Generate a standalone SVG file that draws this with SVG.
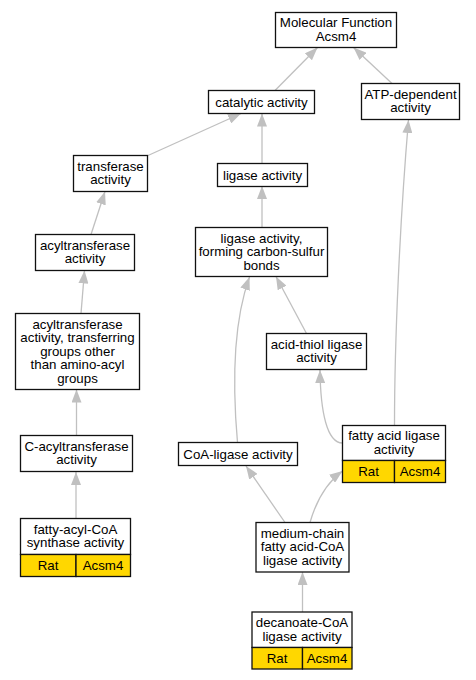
<svg xmlns="http://www.w3.org/2000/svg" width="476" height="680" viewBox="0 0 476 680">
<style>
.n rect{fill:#fff;stroke:#111;stroke-width:1.3}
.n rect.y{fill:#ffd700}
text{font-family:"Liberation Sans",Arial,sans-serif;font-size:13.3px;fill:#000;text-anchor:middle}
.e path{fill:none;stroke:#c0c0c0;stroke-width:1.3;marker-end:url(#ah)}
</style>
<defs>
<marker id="ah" markerUnits="userSpaceOnUse" markerWidth="13" markerHeight="10" refX="13" refY="5" orient="auto"><path d="M0,0 L13,5 L0,10 z" fill="#c0c0c0"/></marker>
</defs>
<rect width="476" height="680" fill="#fff"/>
<g class="e" id="edges">
<path d="M275,90.5 L317.5,47.5"/>
<path d="M392,83.5 L353.5,47.5"/>
<path d="M148,155.5 L241,113.5"/>
<path d="M262,163.5 L262,113.5"/>
<path d="M394.5,425.5 C394.5,340 400,220 408.5,120"/>
<path d="M91,234.5 L105,191.5"/>
<path d="M262,227.5 L262,186"/>
<path d="M81,313.5 L84.5,270.5"/>
<path d="M306.5,333.5 L276,276.5"/>
<path d="M237.5,442.5 C232,380 234,320 249.5,277"/>
<path d="M342.5,443 C327,443 320.5,412 320,370"/>
<path d="M76.5,435.5 L76.5,389.5"/>
<path d="M76,518.5 L76,472"/>
<path d="M285,522.5 L246,466"/>
<path d="M310,522.5 C315,505 325,484 342.5,471"/>
<path d="M302.5,612 L302.5,572"/>
</g>
<g class="n" id="mf"><rect x="275.5" y="12.5" width="121" height="35"/><text x="336" y="27.3">Molecular Function</text><text x="336" y="41">Acsm4</text></g>
<g class="n" id="catalytic"><rect x="208.5" y="90.5" width="106" height="23"/><text x="261.5" y="106.6">catalytic activity</text></g>
<g class="n" id="atp"><rect x="361.5" y="83.5" width="98" height="36"/><text x="410.5" y="98.5">ATP-dependent</text><text x="410.5" y="112">activity</text></g>
<g class="n" id="transferase"><rect x="73.5" y="155.5" width="74" height="36"/><text x="110.5" y="170.5">transferase</text><text x="110.5" y="184">activity</text></g>
<g class="n" id="ligase"><rect x="217.5" y="163.5" width="90" height="23"/><text x="262.5" y="179.6">ligase activity</text></g>
<g class="n" id="acyltransferase"><rect x="35.5" y="234.5" width="99" height="36"/><text x="85" y="249.5">acyltransferase</text><text x="85" y="263">activity</text></g>
<g class="n" id="ligasecs"><rect x="195.5" y="227.5" width="132" height="49"/><text x="261.5" y="242.5">ligase activity,</text><text x="261.5" y="256">forming carbon-sulfur</text><text x="261.5" y="269.5">bonds</text></g>
<g class="n" id="acyltrans2"><rect x="15.5" y="313.5" width="124" height="76"/><text x="77.5" y="328.5">acyltransferase</text><text x="77.5" y="342">activity, transferring</text><text x="77.5" y="355.5">groups other</text><text x="77.5" y="369">than amino-acyl</text><text x="77.5" y="382.5">groups</text></g>
<g class="n" id="acidthiol"><rect x="266.5" y="333.5" width="100" height="36"/><text x="316.5" y="348.5">acid-thiol ligase</text><text x="316.5" y="362">activity</text></g>
<g class="n" id="cacyl"><rect x="20.5" y="435.5" width="112" height="36"/><text x="76.5" y="450.5">C-acyltransferase</text><text x="76.5" y="464">activity</text></g>
<g class="n" id="coaligase"><rect x="178.5" y="442.5" width="119" height="23"/><text x="238" y="458.6">CoA-ligase activity</text></g>
<g class="n" id="fattyacid"><rect x="342.5" y="425.5" width="103" height="35"/><rect class="y" x="342.5" y="460.5" width="52" height="22"/><rect class="y" x="394.5" y="460.5" width="51" height="22"/><text x="394" y="440.3">fatty acid ligase</text><text x="394" y="454">activity</text><text x="368.5" y="476">Rat</text><text x="420" y="476">Acsm4</text></g>
<g class="n" id="fattyacyl"><rect x="20.5" y="518.5" width="110" height="36"/><rect class="y" x="20.5" y="554.5" width="55.5" height="22"/><rect class="y" x="76" y="554.5" width="54.5" height="22"/><text x="75.5" y="533.5">fatty-acyl-CoA</text><text x="75.5" y="547">synthase activity</text><text x="48" y="570">Rat</text><text x="103" y="570">Acsm4</text></g>
<g class="n" id="mediumchain"><rect x="256" y="522.5" width="93" height="49.5"/><text x="302.5" y="537.5">medium-chain</text><text x="302.5" y="551">fatty acid-CoA</text><text x="302.5" y="564.5">ligase activity</text></g>
<g class="n" id="decanoate"><rect x="252" y="612" width="100" height="35.5"/><rect class="y" x="252" y="647.5" width="50.5" height="21.5"/><rect class="y" x="302.5" y="647.5" width="49.5" height="21.5"/><text x="302" y="627">decanoate-CoA</text><text x="302" y="640.5">ligase activity</text><text x="277" y="663">Rat</text><text x="327" y="663">Acsm4</text></g>
</svg>
